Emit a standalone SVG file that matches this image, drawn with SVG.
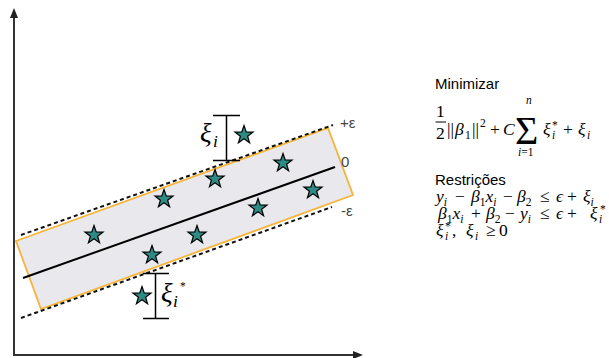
<svg xmlns="http://www.w3.org/2000/svg" width="609" height="358" viewBox="0 0 609 358">
<style>
.ax{stroke:#333;stroke-width:2;fill:none}
.dash{stroke:#111;stroke-width:2;stroke-dasharray:4 3;fill:none}
.reg{stroke:#000;stroke-width:2;fill:none}
.star{fill:#2e8a84;stroke:#000;stroke-width:1.2;stroke-linejoin:miter}
.br{stroke:#000;stroke-width:1.5;fill:none}
.lbl{font-family:"Liberation Sans",Arial,sans-serif;font-size:15px;fill:#444}
.t{font-family:"Liberation Sans",Arial,sans-serif;font-size:15px;fill:#000}
.m{font-family:"Liberation Serif","Times New Roman",serif;font-size:17.5px;fill:#000}
.i{font-style:italic}
.s{font-size:11.5px}
.big{font-size:27px}
.sig{font-size:40px}
</style>
<defs>
<path id="st" d="M0,-9.5 L2.23,-3.07 L9.04,-2.94 L3.61,1.17 L5.58,7.69 L0,3.8 L-5.58,7.69 L-3.61,1.17 L-9.04,-2.94 L-2.23,-3.07Z"/>
</defs>
<g id="axes">
<line class="ax" x1="14" y1="356" x2="14" y2="16"/>
<polygon points="14,8 10,18 18,18" fill="#222"/>
<line class="ax" x1="13" y1="355" x2="354" y2="355"/>
<polygon points="363,355 353,351 353,359" fill="#222"/>
</g>
<g id="band">
<polygon points="16,241 328,128 353,195 41,309" fill="#e9e8ec" stroke="#f4b53a" stroke-width="1.8"/>
</g>
<g id="connectors">
<line class="dash" x1="21" y1="235" x2="333" y2="125"/>
<line class="dash" x1="21" y1="318" x2="332" y2="207"/>
<line class="reg" x1="23" y1="278" x2="335" y2="167"/>
</g>
<g id="band-labels">
<text class="lbl" x="340" y="128">+ε</text>
<text class="lbl" x="341" y="167">0</text>
<text class="lbl" x="341" y="216">-ε</text>
</g>
<g id="stars">
<use href="#st" class="star" x="244" y="135"/>
<use href="#st" class="star" x="283" y="163"/>
<use href="#st" class="star" x="215" y="179"/>
<use href="#st" class="star" x="164" y="199"/>
<use href="#st" class="star" x="313" y="190"/>
<use href="#st" class="star" x="258" y="208"/>
<use href="#st" class="star" x="94" y="235"/>
<use href="#st" class="star" x="197" y="235"/>
<use href="#st" class="star" x="152" y="255"/>
<use href="#st" class="star" x="142" y="296"/>
</g>
<g id="xi-upper">
<path class="br" d="M213,115.5H240M226.5,115.5V160.5M213,160.5H240"/>
<text class="m i big" x="200" y="142">ξ</text>
<text class="m i" x="213" y="147">i</text>
</g>
<g id="xi-lower">
<path class="br" d="M143,273.5H169M155.5,273.5V318.5M143,318.5H169"/>
<text class="m i big" x="161" y="302">ξ</text>
<text class="m i" x="173" y="307">i</text>
<text class="m s" x="180" y="290">*</text>
</g>
<g id="objective">
<text class="t" x="435" y="89">Minimizar</text>
<text class="m" x="436" y="117">1</text>
<line x1="435.5" y1="122" x2="446" y2="122" stroke="#000" stroke-width="1"/>
<text class="m" x="436" y="139">2</text>
<text class="m" y="135"><tspan x="447">||</tspan><tspan class="i" x="455">β</tspan><tspan class="s" x="465" dy="3.5">1</tspan><tspan x="472" dy="-3.5">||</tspan><tspan class="s" x="480" dy="-8">2</tspan><tspan x="490" dy="8">+</tspan><tspan class="i" x="503">C</tspan></text>
<text class="m sig" x="515" y="144">Σ</text>
<text class="m i s" x="526" y="104">n</text>
<text class="m s" y="156"><tspan class="i" x="518">i</tspan><tspan>=1</tspan></text>
<text class="m" y="135"><tspan class="i" x="543">ξ</tspan><tspan class="s i" x="552" dy="3.5">i</tspan><tspan class="s" x="552" dy="-10">*</tspan><tspan x="563" dy="6.5">+</tspan><tspan class="i" x="578">ξ</tspan><tspan class="s i" x="587" dy="3.5">i</tspan></text>
</g>
<g id="constraints">
<text class="t" x="435" y="185">Restrições</text>
<text class="m" y="202"><tspan class="i" x="436">y</tspan><tspan class="s i" dy="3.5">i</tspan><tspan x="455" dy="-3.5">−</tspan><tspan class="i" x="471">β</tspan><tspan class="s" dy="3.5">1</tspan><tspan class="i" dy="-3.5">x</tspan><tspan class="s i" dy="3.5">i</tspan><tspan x="503" dy="-3.5">−</tspan><tspan class="i" x="517">β</tspan><tspan class="s" dy="3.5">2</tspan><tspan x="540" dy="-3.5">≤</tspan><tspan class="i" x="556">ϵ</tspan><tspan x="567">+</tspan><tspan class="i" x="583">ξ</tspan><tspan class="s i" dy="3.5">i</tspan></text>
<text class="m" y="219"><tspan class="i" x="438">β</tspan><tspan class="s" dy="3.5">1</tspan><tspan class="i" dy="-3.5">x</tspan><tspan class="s i" dy="3.5">i</tspan><tspan x="471" dy="-3.5">+</tspan><tspan class="i" x="486">β</tspan><tspan class="s" dy="3.5">2</tspan><tspan x="505" dy="-3.5">−</tspan><tspan class="i" x="520">y</tspan><tspan class="s i" dy="3.5">i</tspan><tspan x="540" dy="-3.5">≤</tspan><tspan class="i" x="556">ϵ</tspan><tspan x="567">+</tspan><tspan class="i" x="590">ξ</tspan><tspan class="s i" x="599" dy="3.5">i</tspan><tspan class="s" x="600" dy="-9.5">*</tspan></text>
<text class="m" y="236"><tspan class="i" x="436">ξ</tspan><tspan class="s i" x="445" dy="3.5">i</tspan><tspan class="s" x="445" dy="-9.5">*</tspan><tspan x="452" dy="6">,</tspan><tspan class="i" x="466">ξ</tspan><tspan class="s i" x="475" dy="3.5">i</tspan><tspan x="486" dy="-3.5">≥</tspan><tspan x="499">0</tspan></text>
</g>
</svg>
